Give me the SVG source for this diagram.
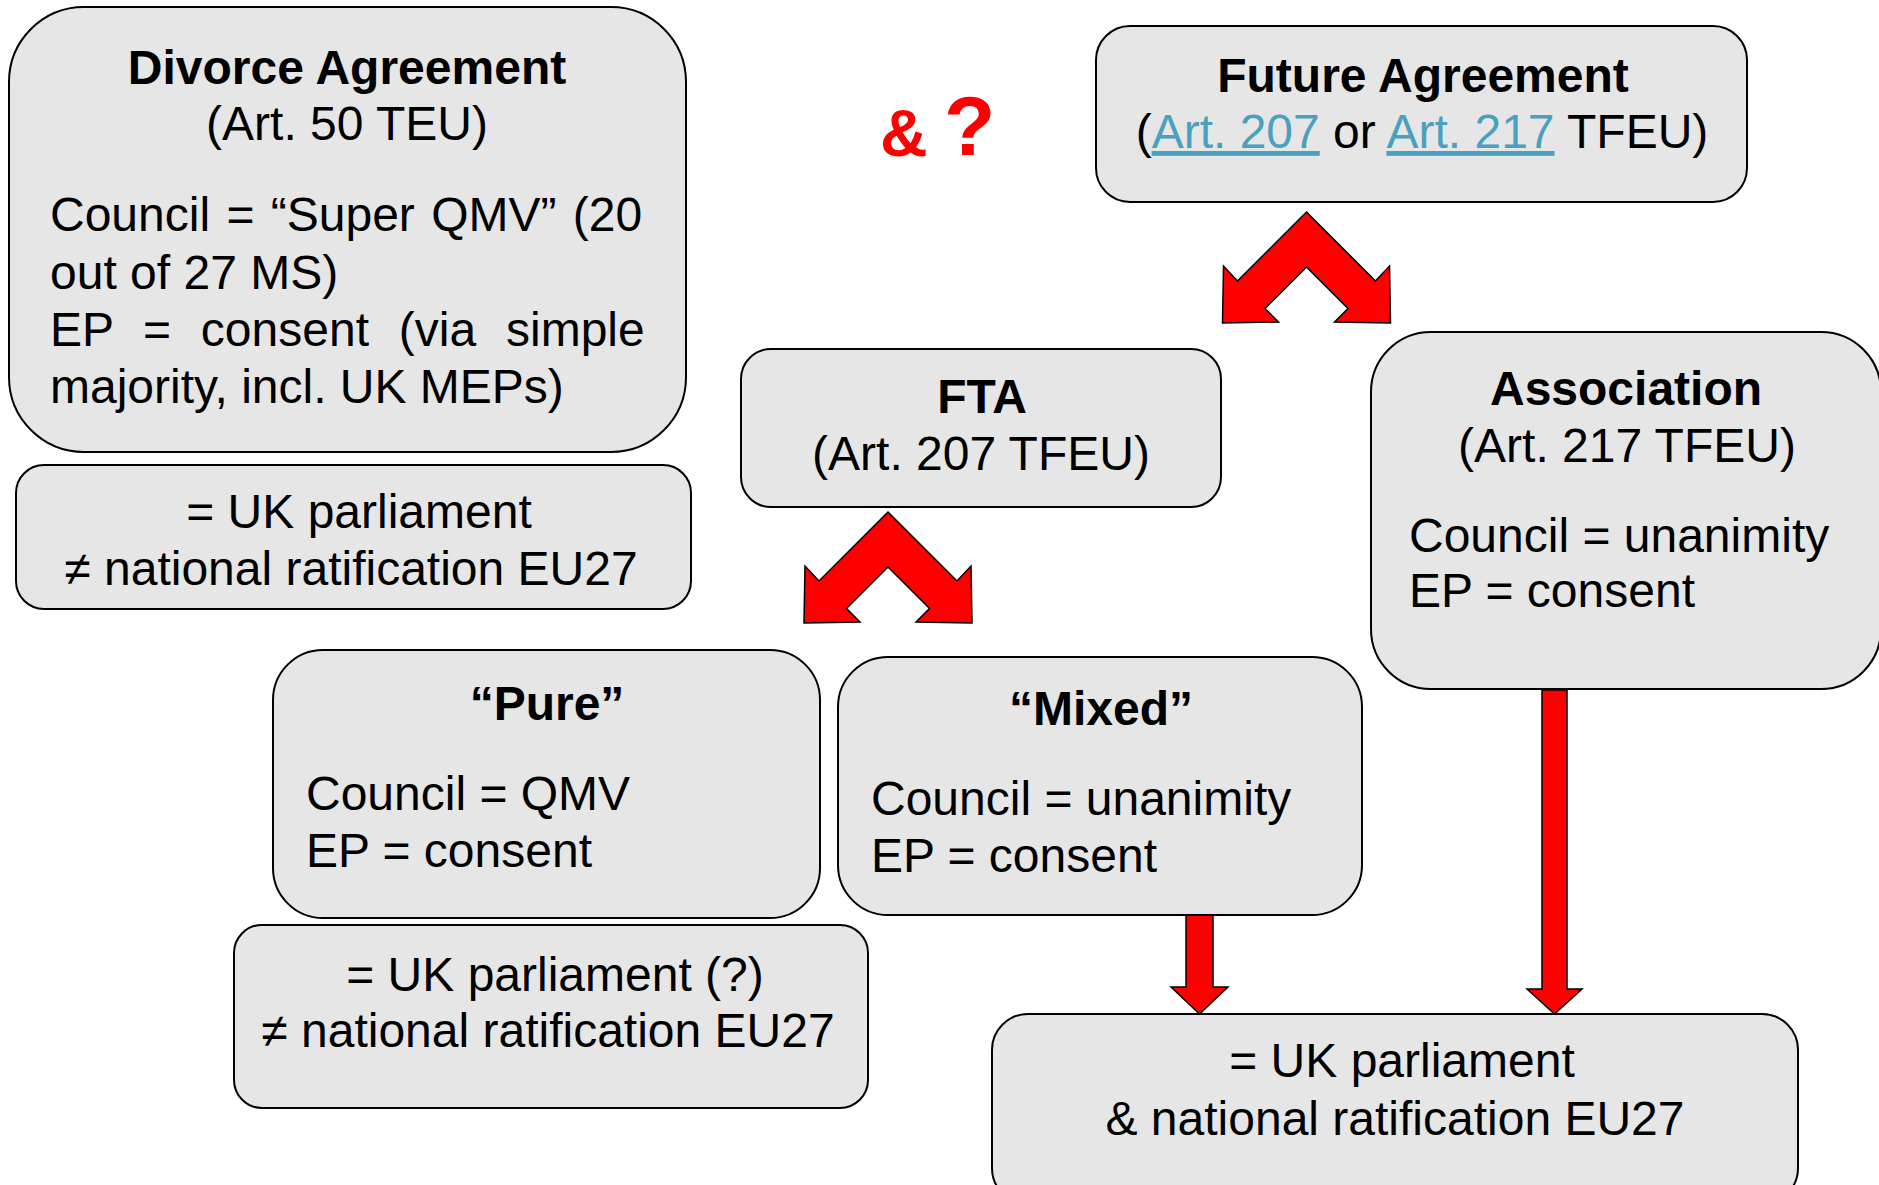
<svg xmlns="http://www.w3.org/2000/svg" width="1879" height="1185" viewBox="0 0 1879 1185">
  <style>
    .box { fill: #e6e6e6; stroke: #000; stroke-width: 2; }
    .t { font-family: "Liberation Sans", Arial, sans-serif; font-size: 48px; fill: #000; }
    .b { font-weight: bold; }
    .c { text-anchor: middle; }
    .link { fill: #4ba0c0; text-decoration: underline; }
    .arrow { fill: #ff0000; stroke: #000; stroke-width: 1.5; stroke-linejoin: miter; }
    .mark { font-family: "Liberation Sans", Arial, sans-serif; font-weight: bold; fill: #ff0000; }
  </style>
  <defs>
    <!-- inverted-V split arrow: one stem forks into two diagonal heads -->
    <path id="fork" d="M 1306.5 212 L 1375.5 281 L 1389.5 266 L 1390.5 323 L 1334.5 322 L 1348 308.5 L 1306.5 267 L 1265 308.5 L 1278.5 322 L 1222.5 323 L 1223.5 266 L 1237.5 281 Z"/>
  </defs>
  <rect width="1879" height="1185" fill="#fff"/>

  <!-- connectors -->
  <g id="connectors">
    <use href="#fork" class="arrow"/>
    <use href="#fork" class="arrow" transform="translate(-418.5 300)"/>
    <path class="arrow" d="M1186 915 L1213 915 L1213 987 L1228 987 L1199.5 1014 L1171 987 L1186 987 Z"/>
    <path class="arrow" d="M1542 690 L1567 690 L1567 989 L1582 989 L1554.5 1014 L1527 989 L1542 989 Z"/>
  </g>

  <g id="divorce">
    <rect class="box" x="9" y="7" width="677" height="445" rx="75" ry="75"/>
    <text class="t b c" x="347" y="84" font-size="47">Divorce Agreement</text>
    <text class="t c" x="347" y="140">(Art. 50 TEU)</text>
    <text class="t" x="50" y="231" word-spacing="3">Council = “Super QMV” (20</text>
    <text class="t" x="50" y="289">out of 27 MS)</text>
    <text class="t" x="50" y="346" word-spacing="16.5">EP = consent (via simple</text>
    <text class="t" x="50" y="403">majority, incl. UK MEPs)</text>
  </g>

  <g id="divorce-ratification">
    <rect class="box" x="16" y="465" width="675" height="144" rx="28" ry="28"/>
    <text class="t c" x="359" y="528">= UK parliament</text>
    <text class="t c" x="351" y="585">≠ national ratification EU27</text>
  </g>

  <g id="and-question">
    <text class="mark" x="880" y="156" font-size="66">&amp;</text>
    <text class="mark" x="944" y="155" font-size="84">?</text>
  </g>

  <g id="future">
    <rect class="box" x="1096" y="26" width="651" height="176" rx="34" ry="34"/>
    <text class="t b c" x="1423" y="92" font-size="47">Future Agreement</text>
    <text class="t c" x="1422" y="148">(<tspan class="link">Art. 207</tspan> or <tspan class="link">Art. 217</tspan> TFEU)</text>
  </g>

  <g id="fta">
    <rect class="box" x="741" y="349" width="480" height="158" rx="30" ry="30"/>
    <text class="t b c" x="982" y="413" font-size="47">FTA</text>
    <text class="t c" x="981" y="470">(Art. 207 TFEU)</text>
  </g>

  <g id="association">
    <rect class="box" x="1371" y="332" width="510" height="357" rx="60" ry="60"/>
    <text class="t b c" x="1626" y="405" font-size="47">Association</text>
    <text class="t c" x="1627" y="462">(Art. 217 TFEU)</text>
    <text class="t" x="1409" y="552">Council = unanimity</text>
    <text class="t" x="1409" y="607">EP = consent</text>
  </g>

  <g id="pure">
    <rect class="box" x="273" y="650" width="547" height="268" rx="50" ry="50"/>
    <text class="t b c" x="547" y="720" font-size="47">“Pure”</text>
    <text class="t" x="306" y="810">Council = QMV</text>
    <text class="t" x="306" y="867">EP = consent</text>
  </g>

  <g id="pure-ratification">
    <rect class="box" x="234" y="925" width="634" height="183" rx="28" ry="28"/>
    <text class="t c" x="555" y="991">= UK parliament (?)</text>
    <text class="t c" x="548" y="1047">≠ national ratification EU27</text>
  </g>

  <g id="mixed">
    <rect class="box" x="838" y="657" width="524" height="258" rx="50" ry="50"/>
    <text class="t b c" x="1101" y="725" font-size="47">“Mixed”</text>
    <text class="t" x="871" y="815">Council = unanimity</text>
    <text class="t" x="871" y="872">EP = consent</text>
  </g>

  <g id="mixed-ratification">
    <rect class="box" x="992" y="1014" width="806" height="190" rx="36" ry="36"/>
    <text class="t c" x="1402" y="1077">= UK parliament</text>
    <text class="t c" x="1395" y="1135">&amp; national ratification EU27</text>
  </g>
</svg>
